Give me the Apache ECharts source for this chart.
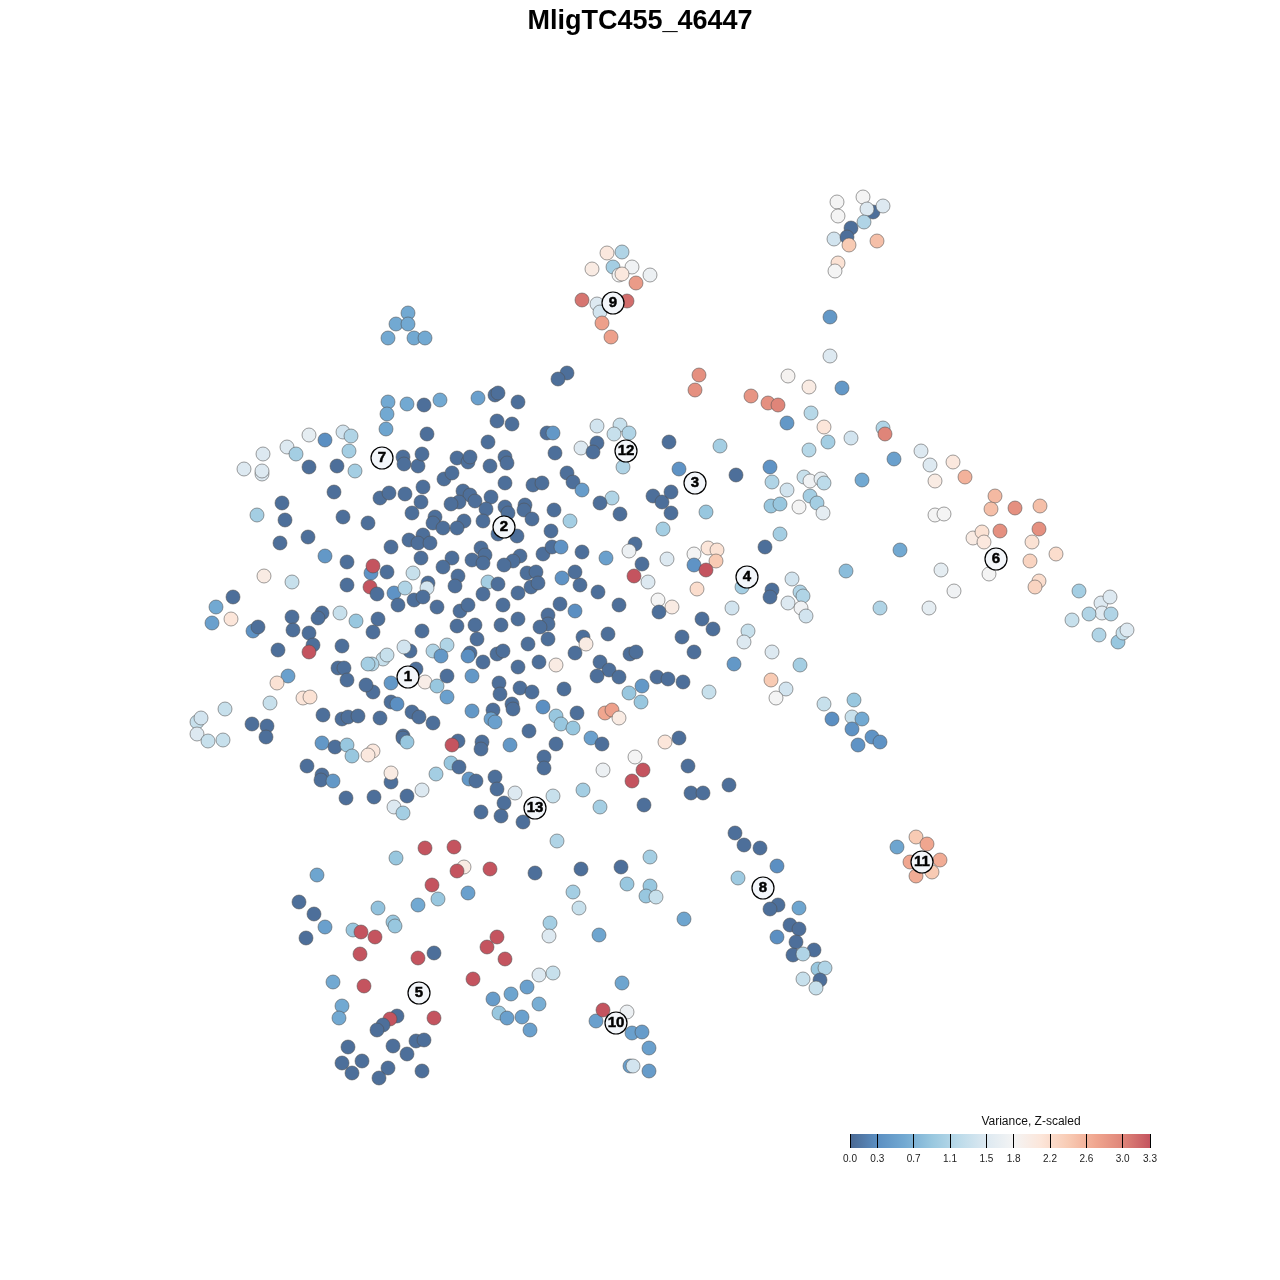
<!DOCTYPE html>
<html><head><meta charset="utf-8">
<script src="https://cdn.jsdelivr.net/npm/echarts@6/dist/echarts.min.js"></script>
<style>html,body{margin:0;padding:0;background:#fff}#c{width:1280px;height:1280px}</style>
</head><body><div id="c"></div>
<script>
// Each point: [x, y, value]  (x,y in t-SNE plot units, value = variance z-scaled)
const ptsUpperLeft = [[408,313,0.6],[396,324,0.6],[408,324,0.6],[388,338,0.6],[414,338,0.6],[425,338,0.6],
[388,402,0.6],[387,414,0.6],[386,429,0.55],[407,404,0.6],[424,405,0.05],[440,400,0.6],[478,398,0.5],[495,395,0.05],[498,393,0.05],[497,421,0.05],[518,402,0.05],[512,424,0.05],[567,373,0.05],[558,379,0.05],
[309,435,1.6],[343,432,1.4],[351,436,1.1],[325,440,0.3],[349,451,1.0],[287,447,1.5],[296,454,1.0],[263,454,1.5],[244,469,1.5],[262,474,1.5],[262,471,1.5],[309,467,0.05],[337,466,0.05],[355,471,1.0],[334,492,0.05],[282,503,0.05],[285,520,0.05],[257,515,1.0],[343,517,0.05],[368,523,0.05],[280,543,0.05],[308,537,0.05]];
const ptsCoreTop = [[427,434,0.05],[488,442,0.05],[547,433,0.05],[553,433,0.4],[581,448,1.5],[555,453,0.05],
[403,457,0.05],[404,464,0.05],[418,466,0.05],[422,454,0.05],[457,458,0.05],[468,462,0.05],[470,457,0.05],[490,466,0.05],[505,457,0.05],[507,463,0.05],[444,479,0.05],[452,473,0.05],[505,483,0.05],[533,485,0.05],[542,483,0.05],[567,473,0.05],[573,482,0.05],[582,490,0.45],
[380,498,0.05],[389,493,0.05],[405,494,0.05],[423,487,0.05],[421,502,0.05],[463,491,0.05],[470,495,0.05],[459,502,0.05],[451,504,0.05],[475,501,0.05],[491,497,0.05],
[412,513,0.05],[435,517,0.05],[433,523,0.05],[443,528,0.05],[464,521,0.05],[457,528,0.05],[486,509,0.05],[483,521,0.05],[505,507,0.05],[508,513,0.05],[525,505,0.05],[524,510,0.05],[532,519,0.05],[554,510,0.05],[570,521,1.0],
[498,534,0.05],[517,536,0.05],[551,531,0.05],[409,540,0.05],[423,535,0.05],[418,543,0.05],[430,543,0.05],[391,547,0.05],
[481,548,0.05],[485,555,0.05],[472,560,0.05],[483,563,0.05],[452,558,0.05],[443,567,0.05],[458,576,0.05],[421,558,0.05],
[520,556,0.05],[513,561,0.05],[504,565,0.05],[527,573,0.05],[536,572,0.05],[543,554,0.05],[552,547,0.05],[561,547,0.35],[582,552,0.05],
[562,578,0.35],[575,572,0.05],[371,573,0.35],[373,566,3.3],[387,572,0.05],[413,573,1.3]];
const ptsCoreBottom = [[370,587,3.3],[377,594,0.05],[394,593,0.35],[428,583,0.05],[405,588,1.1],[427,588,1.4],
[398,605,0.05],[414,600,0.05],[423,597,0.05],[437,607,0.05],[455,586,0.05],[488,582,1.0],
[483,594,0.05],[498,584,0.05],[518,593,0.05],[531,587,0.05],[538,583,0.05],[580,585,0.05],
[560,604,0.05],[575,611,0.3],[460,611,0.05],[468,605,0.05],[503,605,0.05],[378,619,0.05],[373,632,0.05],[422,631,0.05],[457,626,0.05],[475,625,0.05],[501,625,0.05],[518,619,0.05],[548,615,0.05],[548,624,0.05],[540,627,0.05],[548,639,0.05],[583,637,0.05],
[586,644,2.0],[477,639,0.05],[528,644,0.05],
[410,651,0.05],[404,647,1.4],[433,651,1.1],[447,645,1.1],[441,656,0.4],
[383,659,1.3],[387,655,1.3],[372,664,1.1],
[470,653,0.05],[468,656,0.3],[483,662,0.05],[497,654,0.05],[503,651,0.05],[539,662,0.05],[556,665,2.0],[575,653,0.05],[518,667,0.05],[416,669,0.05],
[391,683,0.4],[425,682,1.95],[437,686,0.9],[447,676,0.05],[447,697,0.5],[472,676,0.4],[499,683,0.05],[500,694,0.05],[520,688,0.05],[532,692,0.05],[564,689,0.05],[373,692,0.05],
[391,702,0.05],[397,704,0.3],[512,704,0.05],[513,709,0.05],[543,707,0.3],[493,710,0.05],[556,716,0.9],[561,724,0.9],[573,728,0.9],[577,713,0.05],[472,711,0.4],[491,719,0.5],[495,722,0.5],[412,712,0.05],[419,717,0.05],[433,723,0.05],[380,718,0.05],[529,731,0.05],[403,736,0.05]];
const ptsLeft = [[325,556,0.4],[347,562,0.05],[264,576,2.0],[292,582,1.3],[233,597,0.05],[216,607,0.6],[212,623,0.5],[231,619,2.1],[253,631,0.35],[258,627,0.05],[292,617,0.05],[293,630,0.05],[322,613,0.05],[318,618,0.05],[309,633,0.05],[347,585,0.05],[340,613,1.3],[356,621,0.9],[278,650,0.05],[313,645,0.05],[309,652,3.3],[342,646,0.05],[368,664,1.0],[338,668,0.05],[344,668,0.05],[347,680,0.05],[366,685,0.05],[288,676,0.5],[277,683,2.15],[303,698,2.1],[310,697,2.15],[270,703,1.3],[225,709,1.3],[197,722,1.3],[201,718,1.4],[197,734,1.5],[208,741,1.3],[223,740,1.3],[252,724,0.05],[267,726,0.05],[266,737,0.05],[323,715,0.05],[342,719,0.05],[348,717,0.05],[358,716,0.05],
[322,743,0.4],[335,747,0.05],[347,745,0.9],[352,756,0.9],[373,751,2.05],[368,755,2.05],[403,738,0.05],[407,742,0.9],[458,741,0.05],[452,745,3.3],[482,742,0.05],[481,749,0.05],[307,766,0.05],[322,775,0.05],[321,780,0.05],[333,781,0.4],[391,782,0.05],[391,773,2.0],[436,774,1.0],[451,763,0.9],[459,767,0.05],[469,779,0.4],[476,781,0.05],[495,777,0.05],[497,789,0.05],[422,790,1.5],[374,797,0.05],[407,796,0.05],[346,798,0.05]];
const ptsMidRight = [[597,426,1.4],[620,425,1.3],[614,434,1.3],[629,433,1.1],[597,443,0.05],[593,452,0.05],[623,467,1.1],[669,442,0.05],[679,469,0.35],[612,498,1.1],[600,503,0.05],[653,496,0.05],[662,502,0.05],[671,492,0.05],[620,514,0.05],[671,513,0.05],[663,529,1.0],[635,544,0.05],[629,551,1.7],[606,558,0.5],[667,559,1.5],[642,564,0.05],[634,576,3.3],[648,582,1.5],
[658,600,1.8],[672,607,2.0],[659,612,0.05],[619,605,0.05],[598,592,0.05],[608,634,0.05],[682,637,0.05],[630,654,0.05],[636,652,0.05],[600,662,0.05],[609,670,0.05],[597,676,0.05],[619,677,0.05],[657,677,0.05],[668,679,0.05],[683,682,0.05],[642,686,0.4],[629,693,0.9],[641,702,0.9],[605,713,2.7],[612,710,2.75],[619,718,2.0],[679,738,0.05],[665,742,2.1],[635,757,1.8],[643,770,3.3],[632,781,3.3],[688,766,0.05],[603,770,1.7],[691,793,0.05],[703,793,0.05],[729,785,0.05],[583,790,1.0],[600,807,1.0],[644,805,0.05],[735,833,0.05],[553,796,1.3],[515,793,1.5],[523,822,0.05],[504,803,0.05],[501,816,0.05],[544,757,0.05],[544,768,0.05],[510,745,0.4],[556,744,0.05],[591,738,0.5],[602,744,0.05]];
const ptsEast = [[699,375,2.9],[695,390,2.9],[751,396,2.85],[768,403,2.9],[778,405,3.0],[788,376,1.85],[809,387,2.0],[830,356,1.5],[842,388,0.4],[787,423,0.4],[811,413,1.15],[824,427,2.1],[828,442,1.0],[809,450,1.15],[851,438,1.4],[883,428,1.1],[885,434,3.0],[720,446,1.0],[894,459,0.5],[921,451,1.5],[930,465,1.5],[953,462,2.05],[965,477,2.6],[935,481,2.0],[736,475,0.05],[770,467,0.35],[772,482,1.1],[787,490,1.4],[804,477,1.3],[810,481,1.75],[821,479,1.6],[824,483,1.2],[862,480,0.6],[706,512,0.9],[771,506,0.9],[780,504,0.9],[799,507,1.8],[810,496,1.0],[817,503,1.0],[823,513,1.6],[935,515,1.8],[944,514,1.8],[995,496,2.55],[991,509,2.5],[1015,508,2.9],[1040,506,2.5],[780,534,1.0],[765,547,0.05],[708,548,2.1],[717,550,2.15],[694,554,1.8],[716,561,2.4],[694,565,0.35],[706,570,3.3],[1000,531,2.9],[1039,529,2.9],[973,538,2.0],[982,532,2.15],[984,542,2.05],[1032,542,2.15],[1056,554,2.2],[1030,561,2.3],[900,550,0.6],[697,589,2.2],[742,587,1.0],[792,579,1.4],[772,590,0.05],[770,597,0.05],[800,592,1.1],[803,596,1.1],[788,603,1.5],[801,608,1.75],[806,616,1.4],[846,571,0.8],[941,570,1.6],[989,574,1.8],[1039,581,2.2],[1035,587,2.3],[954,591,1.75],[732,608,1.4],[880,608,1.1],[929,608,1.6],[1079,591,1.0],[1101,603,1.5],[1110,597,1.5],[1102,613,1.55],[1089,614,1.1],[1111,614,1.1],[1072,620,1.3],[1099,635,1.1],[1118,642,0.9],[1123,633,1.3],[1127,630,1.5],[702,619,0.05],[713,629,0.05],[694,652,0.05],[748,631,1.3],[744,642,1.5],[772,652,1.5],[734,664,0.4],[800,665,1.0]];
const ptsSouthEast = [[771,680,2.4],[786,689,1.4],[776,698,1.8],[709,692,1.3],[824,704,1.3],[854,700,0.9],[832,719,0.3],[852,717,1.3],[862,719,0.6],[852,729,0.35],[858,745,0.35],[872,737,0.35],[880,742,0.35],[744,845,0.05],[760,848,0.05],[777,866,0.3],[738,878,0.95],[778,905,0.05],[770,909,0.05],[799,908,0.55],[790,925,0.05],[799,929,0.05],[777,937,0.3],[796,942,0.05],[793,955,0.05],[814,950,0.05],[803,954,1.1],[818,969,0.9],[825,968,1.1],[820,980,0.05],[803,979,1.3],[816,988,1.3],[897,847,0.55],[916,837,2.4],[927,844,2.7],[940,860,2.65],[932,872,2.4],[916,876,2.65],[910,862,2.7]];
const ptsSouthWest = [[394,807,1.5],[403,813,1.0],[481,812,0.05],[425,848,3.3],[454,847,3.3],[464,867,2.0],[457,871,3.3],[490,869,3.3],[396,858,0.9],[317,875,0.55],[432,885,3.3],[468,893,0.5],[438,899,0.9],[418,905,0.6],[378,908,0.85],[299,902,0.05],[314,914,0.05],[325,927,0.5],[306,938,0.05],[353,930,0.9],[361,932,3.3],[375,937,3.3],[393,922,0.9],[395,926,0.9],[360,954,3.3],[418,958,3.3],[434,953,0.05],[497,937,3.3],[487,947,3.3],[505,959,3.3],[473,979,3.3],[333,982,0.6],[364,986,3.3],[342,1006,0.6],[339,1018,0.6],[434,1018,3.3],[397,1016,0.05],[390,1019,3.3],[383,1025,0.05],[377,1030,0.05],[493,999,0.45],[511,994,0.55],[527,987,0.5],[499,1013,0.9],[507,1018,0.5],[522,1017,0.5],[530,1030,0.5],[348,1047,0.05],[393,1046,0.05],[416,1041,0.05],[424,1040,0.05],[407,1054,0.05],[342,1063,0.05],[362,1061,0.05],[352,1073,0.05],[388,1068,0.05],[379,1078,0.05],[422,1071,0.05]];
const ptsSouth = [[557,841,1.1],[650,857,1.0],[535,873,0.05],[581,869,0.05],[621,867,0.05],[573,892,1.0],[579,908,1.3],[627,884,0.9],[650,886,0.9],[646,896,0.9],[656,897,1.3],[684,919,0.55],[550,923,1.0],[549,936,1.5],[599,935,0.55],[539,975,1.5],[553,973,1.3],[539,1004,0.65],[622,983,0.55],[596,1021,0.5],[603,1010,3.3],[627,1012,1.7],[632,1033,0.5],[642,1032,0.45],[649,1048,0.5],[630,1066,0.5],[633,1066,1.4],[649,1071,0.45]];
const ptsNorth = [[607,253,2.05],[622,252,1.1],[592,269,2.0],[613,267,1.0],[632,267,1.75],[650,275,1.7],[619,275,1.8],[622,274,2.05],[636,283,2.8],[582,300,3.1],[597,304,1.5],[627,301,3.15],[600,312,1.4],[602,323,2.75],[611,337,2.75],
[837,202,1.8],[863,197,1.8],[838,216,1.8],[873,212,0.05],[867,209,1.5],[883,206,1.5],[834,239,1.4],[851,228,0.05],[847,237,0.05],[864,222,1.1],[849,245,2.4],[877,241,2.5],[838,263,2.15],[835,271,1.8],[830,317,0.4]];
const clusterLabels = [[408,677,'1'],[504,527,'2'],[695,483,'3'],[747,577,'4'],[419,993,'5'],[996,559,'6'],[382,458,'7'],[763,888,'8'],[613,303,'9'],[616,1023,'10'],[922,862,'11'],[626,451,'12'],[535,808,'13']];
const legendTicks = [0.0,0.3,0.7,1.1,1.5,1.8,2.2,2.6,3.0,3.3];
const valueMin = 0, valueMax = 3.3;
const chartTitle = 'MligTC455_46447';
const legendTitle = 'Variance, Z-scaled';

const palette = ['#4a6892','#5b8fc2','#72a9d2','#98c7df','#bcdbea','#dde9f1','#f4f4f4','#fce6da','#f8cbb4','#f0a68f','#df8579','#c4545f'];
const allPts = [].concat(ptsUpperLeft, ptsCoreTop, ptsCoreBottom, ptsLeft, ptsMidRight, ptsEast, ptsSouthEast, ptsSouthWest, ptsSouth, ptsNorth);

const chart = echarts.init(document.getElementById('c'), null, {renderer:'canvas'});
const FONT = 'Liberation Sans, Arial, sans-serif';
chart.setOption({
  animation:false,
  backgroundColor:'#ffffff',
  title:{text:chartTitle,left:'center',top:3,textStyle:{fontSize:27,fontWeight:'bold',color:'#000',fontFamily:FONT}},
  grid:[{left:0,top:0,width:1280,height:1280},{left:850,top:1134,width:300,height:14}],
  xAxis:[{gridIndex:0,type:'value',min:0,max:1280,show:false},
         {gridIndex:1,type:'value',min:valueMin,max:valueMax,z:10,
          axisLine:{show:false},splitLine:{show:false},
          axisTick:{show:true,inside:true,length:14,customValues:legendTicks,lineStyle:{color:'#000',width:1}},
          axisLabel:{show:true,customValues:legendTicks,formatter:v=>v.toFixed(1),fontSize:10,color:'#222',margin:6,fontFamily:FONT}}],
  yAxis:[{gridIndex:0,type:'value',min:0,max:1280,inverse:true,show:false},
         {gridIndex:1,type:'value',min:0,max:1,show:false}],
  visualMap:{type:'continuous',show:false,min:valueMin,max:valueMax,dimension:2,seriesIndex:0,inRange:{color:palette}},
  graphic:[{type:'text',x:1031,y:1122,style:{text:legendTitle,fill:'#111',font:'12px '+FONT,textAlign:'center',textVerticalAlign:'middle'}}],
  series:[
    {type:'scatter',xAxisIndex:0,yAxisIndex:0,data:allPts,symbolSize:14,
     itemStyle:{borderColor:'rgba(80,80,80,0.55)',borderWidth:1,opacity:1},z:2,silent:true},
    {type:'scatter',xAxisIndex:0,yAxisIndex:0,data:clusterLabels,symbolSize:22,z:5,silent:true,
     itemStyle:{color:'#f3f6fa',borderColor:'#000',borderWidth:1.2,opacity:1},
     label:{show:true,position:'inside',formatter:p=>p.data[2],fontSize:15,fontWeight:'bold',color:'#000',textBorderColor:'#000',textBorderWidth:0.5,opacity:1,fontFamily:FONT}},
    {type:'custom',xAxisIndex:1,yAxisIndex:1,data:[[valueMin,valueMax]],z:1,silent:true,
     renderItem:(params,api)=>{
       const p0=api.coord([api.value(0),1]), p1=api.coord([api.value(1),0]);
       return {type:'rect',shape:{x:p0[0],y:p0[1],width:p1[0]-p0[0],height:p1[1]-p0[1]},
         style:{fill:new echarts.graphic.LinearGradient(0,0,1,0,palette.map((c,i)=>({offset:i/(palette.length-1),color:c})))}};
     }}
  ]
});
</script></body></html>
